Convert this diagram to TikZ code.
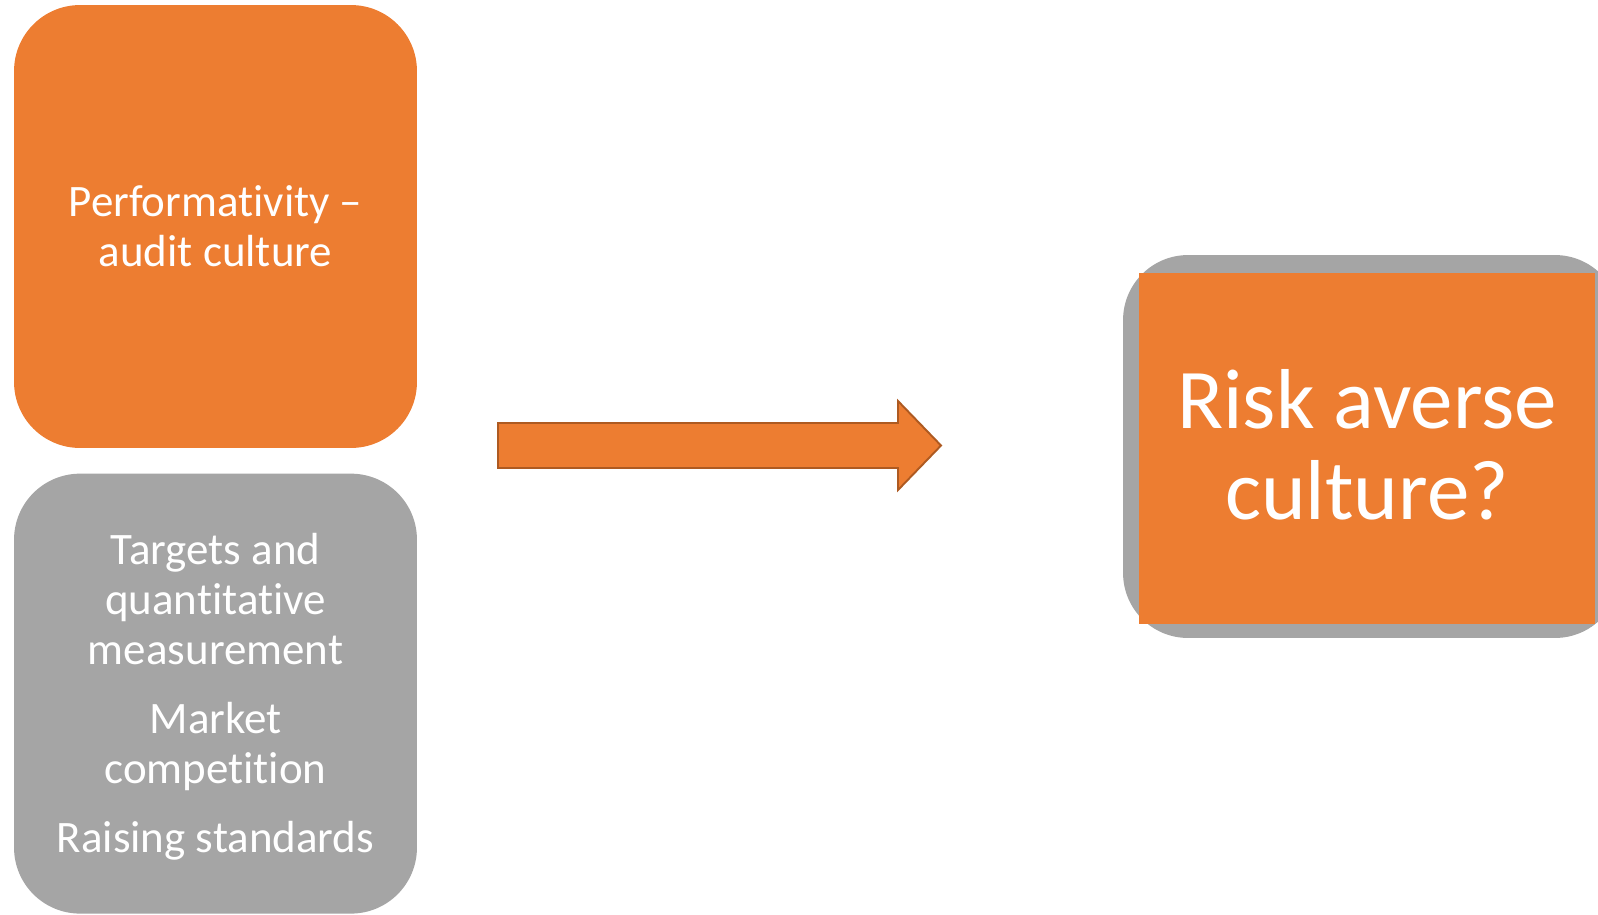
\documentclass[tikz,border=0pt]{standalone}
\usepackage{fontspec}
\setmainfont{Carlito}[Ligatures={NoCommon}]
\usetikzlibrary{positioning}
\definecolor{accent}{HTML}{ED7D31}
\definecolor{accentdark}{HTML}{AE5A21}
\definecolor{neutral}{HTML}{A5A5A5}
\tikzset{box/.style={shape=rectangle, rounded corners=1.32cm, text=white,
    minimum width=8.06cm, align=center, inner sep=0pt}}
\tikzset{smalltext/.style={font=\fontsize{25.6}{28.4}\selectfont}}
\tikzset{bigtext/.style={font=\fontsize{48.4}{51.7}\selectfont}}

\begin{document}
\begin{tikzpicture}[x=0.02cm, y=-0.02cm]
  \useasboundingbox (0,0) rectangle (1598,914);
  \clip (0,0) rectangle (1598,914);
  \tikzstyle{every node}=[font=\fontsize{25.6}{28.4}\selectfont]

    \node[box, fill=accent, minimum height=8.86cm, smalltext](perf) at (215.5,226.5)
         {Performativity –\\audit culture};
    \node[box, fill=neutral, minimum height=8.8cm](targets) [below=0.5cm of perf] {};
    \node[smalltext, text=white, align=center](targetstext) at ([yshift=-0.06cm]targets.center)
         {Targets and\\quantitative\\measurement\\[10.8pt]Market\\competition\\[10.8pt]Raising standards};

    %%%% right box
    \node[box, fill=neutral, rounded corners=1.3cm, minimum width=9.94cm, minimum height=7.66cm](back) at (1371.5,446.5) {};
    \node[box, fill=accent, rounded corners=0pt, minimum width=9.12cm, minimum height=7.02cm](risk) at (1367,448.5) {};
    \node[bigtext, text=white, align=center](risktext) at ([yshift=0.08cm]risk.center)
         {Risk averse\\culture?};

    %%%% block arrow
    \coordinate (tail) at (498,445.5);
    \coordinate (tip) at (941,445.5);
    \draw[draw=accentdark, fill=accent, line width=1.1pt, line join=miter]
      (tail) ++(0,-22.5) -- ++(400,0) -- ++(0,-22) -- (tip) -- ++(-43,44.5) -- ++(0,-22) -- ++(-400,0) -- cycle;

\end{tikzpicture}
\end{document}
